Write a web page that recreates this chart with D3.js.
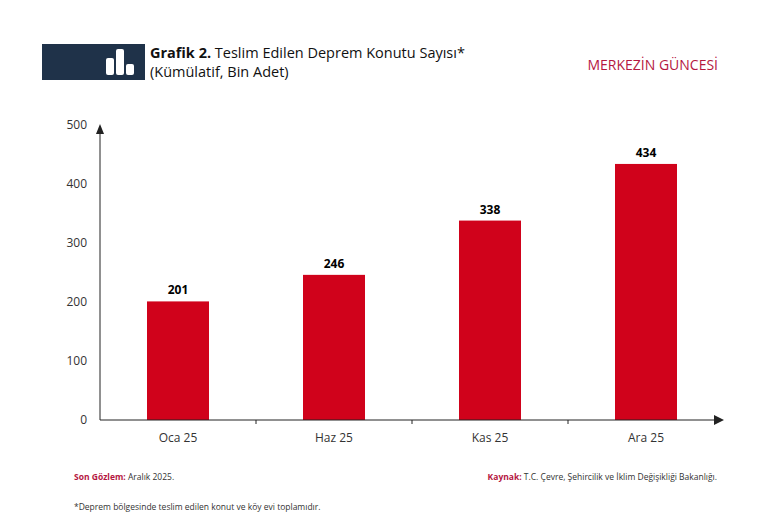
<!DOCTYPE html>
<html><head><meta charset="utf-8">
<script src="https://cdn.jsdelivr.net/npm/d3@7"></script>
<style>body{margin:0;background:#fff}text{font-family:"Open Sans",sans-serif}</style>
</head><body>
<svg id="c" width="770" height="529"></svg>
<script>
var categories = ["Oca 25", "Haz 25", "Kas 25", "Ara 25"];
var values = [201, 246, 338, 434];
var yTicks = [0, 100, 200, 300, 400, 500];
var red = "#d0021b";

var svg = d3.select("#c");

// header
svg.append("rect").attr("x", 42).attr("y", 44).attr("width", 103).attr("height", 36).attr("fill", "#1f3249");
[[106, 58, 8, 17], [116, 49, 8, 26], [126, 64, 8, 11]].forEach(function(b) {
    svg.append("rect").attr("x", b[0]).attr("y", b[1]).attr("width", b[2]).attr("height", b[3])
	.attr("rx", 2).attr("fill", "#fff");
});
var t = svg.append("text").attr("x", 150).attr("y", 58).attr("font-size", 14.5).attr("fill", "#111");
t.append("tspan").attr("font-weight", "bold").text("Grafik 2.");
t.append("tspan").text(" Teslim Edilen Deprem Konutu Sayısı*");
svg.append("text").attr("x", 150).attr("y", 77).attr("font-size", 14.5).attr("fill", "#111").text("(Kümülatif, Bin Adet)");
svg.append("text").attr("x", 718).attr("y", 70).attr("text-anchor", "end").attr("font-size", 14)
    .attr("fill", "#b5173f").text("MERKEZİN GÜNCESİ");

var x = d3.scaleBand().domain(categories).range([100, 724]).paddingInner(0).paddingOuter(0);
var y = d3.scaleLinear().domain([0, 500]).range([420, 125]);

svg.selectAll("rect.bar").data(values).enter().append("rect")
    .attr("class", "bar")
    .attr("x", function(d, i) { return x(categories[i]) + x.bandwidth() / 2 - 31; })
    .attr("width", 62)
    .attr("y", function(d) { return y(d); })
    .attr("height", function(d) { return y(0) - y(d); })
    .attr("fill", red);

svg.selectAll("text.val").data(values).enter().append("text")
    .attr("class", "val")
    .attr("x", function(d, i) { return x(categories[i]) + x.bandwidth() / 2; })
    .attr("y", function(d) { return y(d) - 7; })
    .attr("text-anchor", "middle").attr("font-size", 12).attr("font-weight", "bold")
    .text(function(d) { return d; });

// y axis labels
svg.selectAll("text.yt").data(yTicks).enter().append("text")
    .attr("class", "yt").attr("x", 87).attr("y", function(d) { return y(d) + 4; })
    .attr("text-anchor", "end").attr("font-size", 12).attr("fill", "#333").text(function(d) { return d; });

// axes lines
svg.append("line").attr("x1", 100).attr("x2", 100).attr("y1", 420).attr("y2", 130).attr("stroke", "#222");
svg.append("path").attr("d", "M96,134 L100,124 L104,134 Z").attr("fill", "#222");
svg.append("line").attr("x1", 100).attr("x2", 716).attr("y1", 420).attr("y2", 420).attr("stroke", "#222");
svg.append("path").attr("d", "M714,415 L724,420 L714,425 Z").attr("fill", "#222");
svg.selectAll("line.xt").data(categories.slice(1)).enter().append("line")
    .attr("class", "xt").attr("x1", function(d) { return x(d); }).attr("x2", function(d) { return x(d); })
    .attr("y1", 420).attr("y2", 424).attr("stroke", "#222");
svg.selectAll("text.xl").data(categories).enter().append("text")
    .attr("class", "xl").attr("x", function(d) { return x(d) + x.bandwidth() / 2; }).attr("y", 442)
    .attr("text-anchor", "middle").attr("font-size", 12).attr("fill", "#333").text(function(d) { return d; });

// footer
var f1 = svg.append("text").attr("x", 74).attr("y", 480).attr("font-size", 8.5).attr("fill", "#333");
f1.append("tspan").attr("font-weight", "bold").attr("fill", "#b5173f").text("Son Gözlem:");
f1.append("tspan").text(" Aralık 2025.");
var f2 = svg.append("text").attr("x", 717).attr("y", 480).attr("text-anchor", "end").attr("font-size", 8.5).attr("fill", "#333");
f2.append("tspan").attr("font-weight", "bold").attr("fill", "#b5173f").text("Kaynak:");
f2.append("tspan").text(" T.C. Çevre, Şehircilik ve İklim Değişikliği Bakanlığı.");
svg.append("text").attr("x", 74).attr("y", 510).attr("font-size", 8.5).attr("fill", "#333")
    .text("*Deprem bölgesinde teslim edilen konut ve köy evi toplamıdır.");
</script>
</body></html>
